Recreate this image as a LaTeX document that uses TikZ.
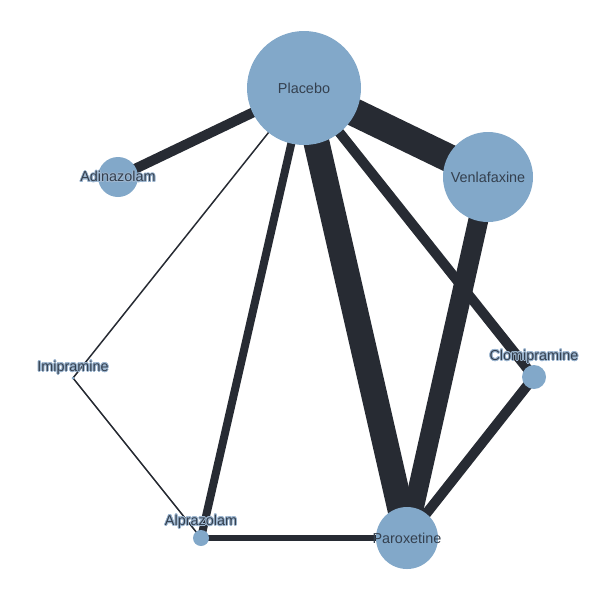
\documentclass[tikz,border=0pt]{standalone}
\usepackage{fontspec}
\setmainfont{Liberation Sans}
\usepackage[copies]{contour}
\contourlength{0.6pt}
\usetikzlibrary{positioning, backgrounds}
\definecolor{nodeblue}{HTML}{82A8C9}
\definecolor{halo}{HTML}{9DB6D0}
\definecolor{edgedark}{HTML}{272B33}
\definecolor{labeltext}{HTML}{34404F}

\newcommand{\halotext}[1]{\contour{halo}{#1}}

\begin{document}
\begin{tikzpicture}[
x=0.75pt, y=-0.75pt,
drug/.style={circle,
  fill=nodeblue,
  inner sep=0pt,
  minimum size=#1*1.5pt,
  text=labeltext,
  font=\fontsize{10.8}{12}\selectfont
},
druglabel/.style={text=labeltext,
  inner sep=0pt,
  font=\fontsize{10.8}{12}\selectfont,
  yshift=#1*0.75pt
},
trial/.style={draw=edgedark,
  line width=#1*0.75pt
}
]
\useasboundingbox (0,0) rectangle (616,600);

\node[drug=57] (placebo) at (304,88)
    {Placebo};
\node[drug=45] (venla) at (488,177)
    {Venlafaxine};
\node[drug=20, label={[druglabel=0]center:\halotext{Adinazolam}}] (adina) at (118,177)
    {};
\node[drug=1.5, label={[druglabel=10]center:\halotext{Imipramine}}] (imipra) at (73,378)
    {};
\node[drug=12, label={[druglabel=20]center:\halotext{Clomipramine}}] (clomi) at (534,377)
    {};
\node[drug=31, label={[druglabel=0]center:Paroxetine}] (parox) at (407,538)
    {};
\node[drug=8, label={[druglabel=16]center:\halotext{Alprazolam}}] (alpra) at (201,538)
    {};

\begin{scope}[on background layer]
\draw[trial=28] (placebo.center) -- (venla.center);
\draw[trial=26] (placebo.center) -- (parox.center);
\draw[trial=20] (venla.center) -- (parox.center);
\draw[trial=10] (placebo.center) -- (adina.center);
\draw[trial=10] (placebo.center) -- (clomi.center);
\draw[trial=8] (placebo.center) -- (alpra.center);
\draw[trial=10] (clomi.center) -- (parox.center);
\draw[trial=6] (alpra.center) -- (parox.center);
\draw[trial=1.5] (placebo.center) -- (imipra.center);
\draw[trial=1.5] (imipra.center) -- (alpra.center);
\end{scope}
\end{tikzpicture}
\end{document}
